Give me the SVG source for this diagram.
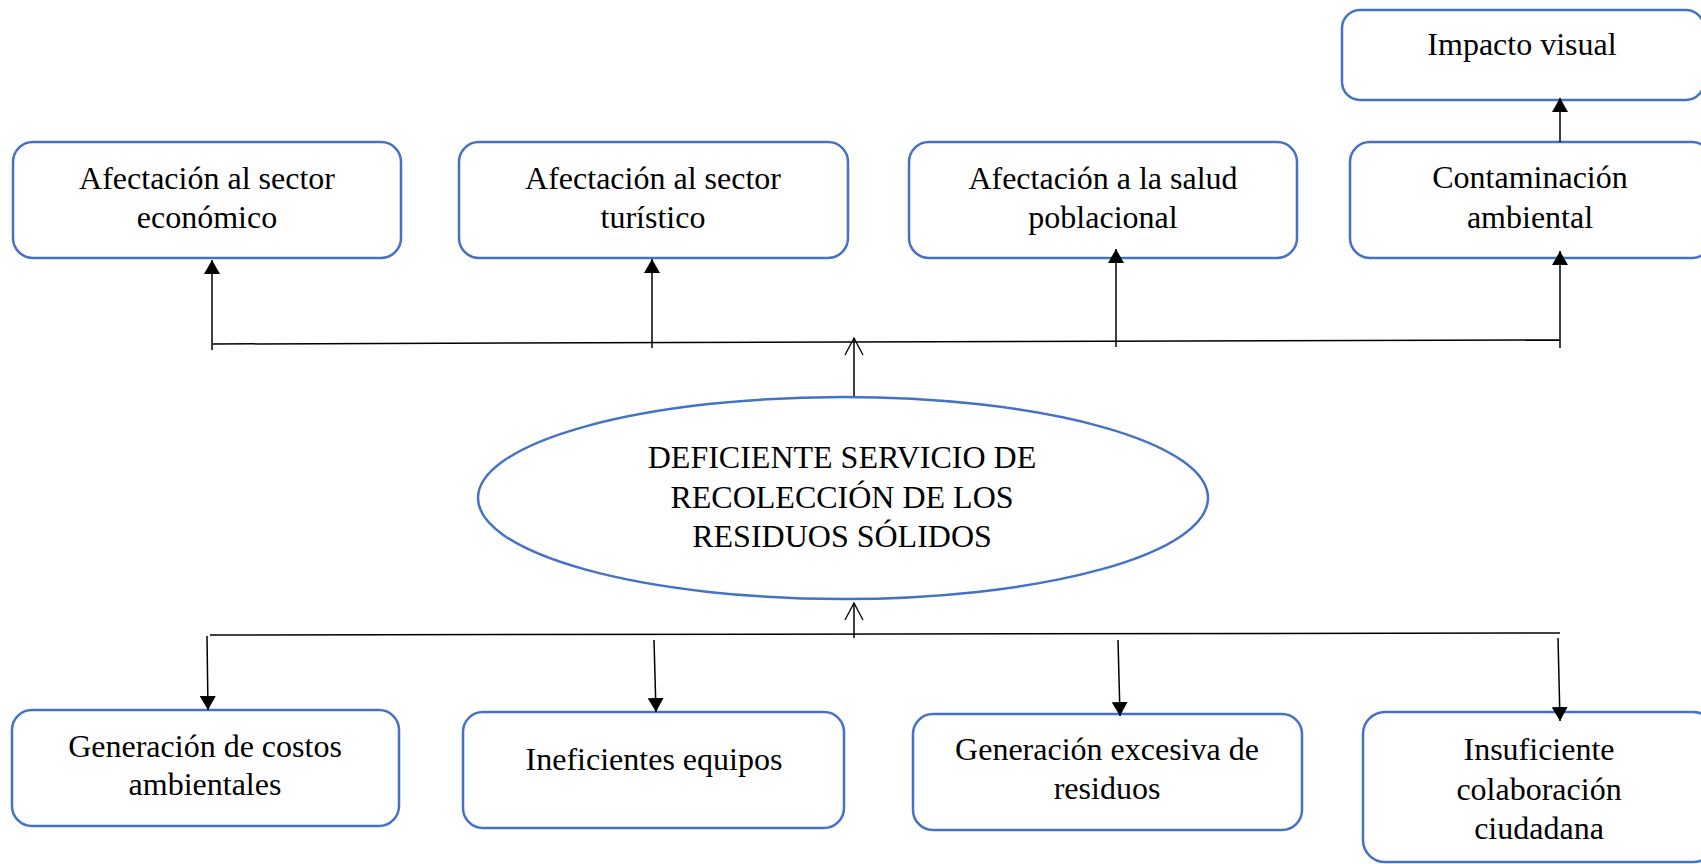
<svg xmlns="http://www.w3.org/2000/svg" width="1701" height="864" viewBox="0 0 1701 864">
<style>
.box{fill:#fff;stroke:#4472C4;stroke-width:2.5}
.t{font-family:"Liberation Serif","Times New Roman",serif;font-size:32px;fill:#000;text-anchor:middle}
.c{stroke:#000;stroke-width:1.5;fill:none}
</style>
<defs>
<marker id="tri" markerUnits="userSpaceOnUse" viewBox="0 0 14 16" markerWidth="14" markerHeight="16" refX="14" refY="8" orient="auto">
<path d="M0,0 L14,8 L0,16 z" fill="#000"/>
</marker>
<marker id="open" markerUnits="userSpaceOnUse" viewBox="0 0 19 20" markerWidth="19" markerHeight="20" refX="18" refY="10" orient="auto">
<path d="M1,1 L18,10 L1,19" fill="none" stroke="#000" stroke-width="1.3"/>
</marker>
</defs>
<rect width="1701" height="864" fill="#fff"/>

<g id="n-economico">
<rect class="box" x="13" y="142" width="388" height="116" rx="20"/>
<text class="t" x="207" y="189">Afectación al sector</text>
<text class="t" x="207" y="228">económico</text>
</g>
<g id="n-turistico">
<rect class="box" x="459" y="142" width="389" height="116" rx="20"/>
<text class="t" x="653" y="189">Afectación al sector</text>
<text class="t" x="653" y="228">turístico</text>
</g>
<g id="n-salud">
<rect class="box" x="909" y="142" width="388" height="116" rx="20"/>
<text class="t" x="1103" y="189">Afectación a la salud</text>
<text class="t" x="1103" y="228">poblacional</text>
</g>
<g id="n-contaminacion">
<rect class="box" x="1350" y="142" width="362" height="116" rx="20"/>
<text class="t" x="1530" y="188">Contaminación</text>
<text class="t" x="1530" y="228">ambiental</text>
</g>
<g id="n-impacto">
<rect class="box" x="1342" y="10" width="362" height="90" rx="18"/>
<text class="t" x="1522" y="55">Impacto visual</text>
</g>

<g id="n-central">
<ellipse class="box" cx="843" cy="498" rx="365" ry="101"/>
<text class="t" x="842" y="468">DEFICIENTE SERVICIO DE</text>
<text class="t" x="842" y="508">RECOLECCIÓN DE LOS</text>
<text class="t" x="842" y="547">RESIDUOS SÓLIDOS</text>
</g>

<g id="n-costos">
<rect class="box" x="12" y="710" width="387" height="116" rx="20"/>
<text class="t" x="205" y="757">Generación de costos</text>
<text class="t" x="205" y="795">ambientales</text>
</g>
<g id="n-equipos">
<rect class="box" x="463" y="712" width="381" height="116" rx="20"/>
<text class="t" x="654" y="770">Ineficientes equipos</text>
</g>
<g id="n-excesiva">
<rect class="box" x="913" y="714" width="389" height="116" rx="20"/>
<text class="t" x="1107" y="760">Generación excesiva de</text>
<text class="t" x="1107" y="799">residuos</text>
</g>
<g id="n-colaboracion">
<rect class="box" x="1363" y="712" width="352" height="150" rx="22"/>
<text class="t" x="1539" y="760">Insuficiente</text>
<text class="t" x="1539" y="800">colaboración</text>
<text class="t" x="1539" y="839">ciudadana</text>
</g>

<g id="connectors">
<line class="c" x1="213" y1="344" x2="1560" y2="340"/>
<line class="c" x1="212" y1="350" x2="212" y2="260" marker-end="url(#tri)"/>
<line class="c" x1="652" y1="348" x2="652" y2="259" marker-end="url(#tri)"/>
<line class="c" x1="1116" y1="347" x2="1116" y2="249" marker-end="url(#tri)"/>
<line class="c" x1="1560" y1="348" x2="1560" y2="251" marker-end="url(#tri)"/>
<line class="c" x1="1560" y1="142" x2="1560" y2="98" marker-end="url(#tri)"/>
<line class="c" x1="854" y1="396" x2="854" y2="338" marker-end="url(#open)"/>
<line class="c" x1="210" y1="635" x2="1560" y2="633"/>
<line class="c" x1="854" y1="638" x2="854" y2="603" marker-end="url(#open)"/>
<line class="c" x1="207" y1="636" x2="208" y2="710" marker-end="url(#tri)"/>
<line class="c" x1="654" y1="640" x2="656" y2="712" marker-end="url(#tri)"/>
<line class="c" x1="1118" y1="640" x2="1120" y2="716" marker-end="url(#tri)"/>
<line class="c" x1="1558" y1="638" x2="1560" y2="721" marker-end="url(#tri)"/>
</g>
</svg>
